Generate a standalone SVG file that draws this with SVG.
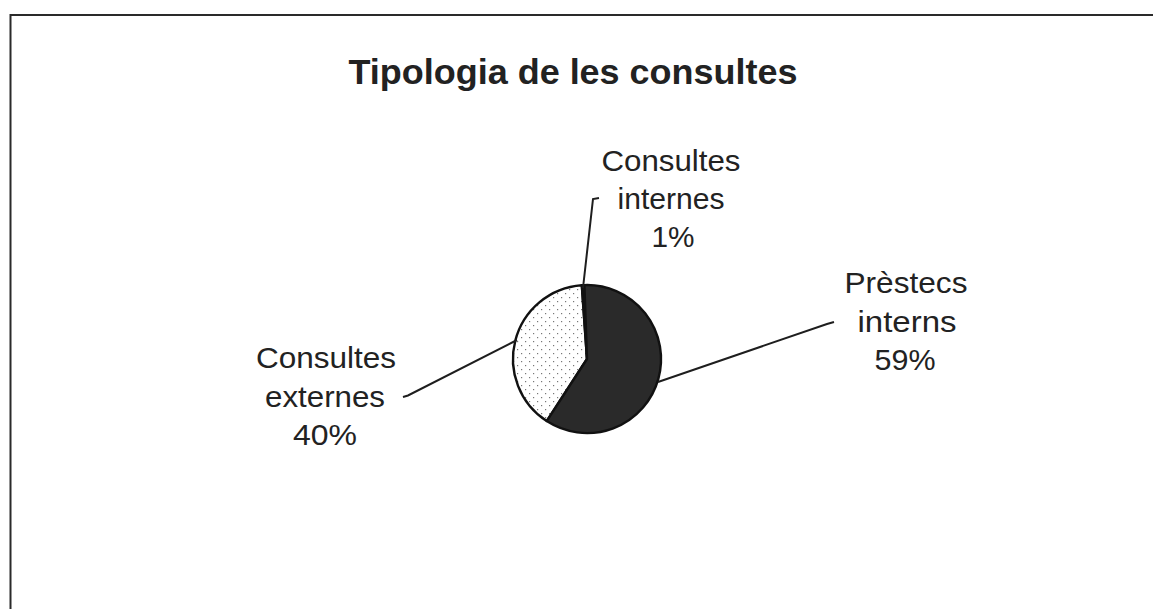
<svg xmlns="http://www.w3.org/2000/svg" width="1153" height="609" viewBox="0 0 1153 609">
<defs>
<pattern id="dots" width="8" height="8" patternUnits="userSpaceOnUse">
<rect x="1" y="1" width="1.2" height="1.2" fill="#777"/>
<rect x="5" y="5" width="1.2" height="1.2" fill="#777"/>
</pattern>
</defs>
<style>
.lbl{font-family:"Liberation Sans",Arial,sans-serif;font-size:30px;fill:#222;text-anchor:middle}
.title{font-family:"Liberation Sans",Arial,sans-serif;font-size:35px;font-weight:bold;fill:#222;text-anchor:middle}
.frame{stroke:#2a2a2a;stroke-width:2;fill:none}
.lead{stroke:#1e1e1e;stroke-width:2;fill:none}
.slice{stroke:#111;stroke-width:2.4;stroke-linejoin:round}
</style>
<rect width="1153" height="609" fill="#fff"/>
<g id="frame">
<line class="frame" x1="10" y1="15" x2="1153" y2="15"/>
<line class="frame" x1="10.5" y1="14" x2="10.5" y2="609"/>
</g>
<g id="title">
<text class="title" x="573" y="84" textLength="449" lengthAdjust="spacingAndGlyphs">Tipologia de les consultes</text>
</g>
<g id="pie">
<path id="slice-externes" class="slice" fill="url(#dots)" d="M587,359 L546.7,421.1 A74,74 0 0 1 581.8,285.2 Z"/>
<path id="slice-internes" class="slice" fill="#fff" d="M587,359 L581.8,285.2 A74,74 0 0 1 584.4,285.1 Z"/>
<path id="slice-prestecs" class="slice" fill="#2a2a2a" d="M587,359 L584.4,285.1 A74,74 0 1 1 546.7,421.1 Z"/>
</g>
<g id="connectors">
<path class="lead" d="M583,288 L593,199 L599,198"/>
<path class="lead" d="M658,382 L827,324 L834,322"/>
<path class="lead" d="M403,397 L408,395.5 L517,340"/>
</g>
<g id="label-internes">
<text class="lbl" x="671" y="171" textLength="139" lengthAdjust="spacingAndGlyphs">Consultes</text>
<text class="lbl" x="671" y="209" textLength="107" lengthAdjust="spacingAndGlyphs">internes</text>
<text class="lbl" x="673" y="247" textLength="43" lengthAdjust="spacingAndGlyphs">1%</text>
</g>
<g id="label-prestecs">
<text class="lbl" x="906" y="293" textLength="123" lengthAdjust="spacingAndGlyphs">Prèstecs</text>
<text class="lbl" x="907" y="332" textLength="99" lengthAdjust="spacingAndGlyphs">interns</text>
<text class="lbl" x="905" y="370" textLength="61" lengthAdjust="spacingAndGlyphs">59%</text>
</g>
<g id="label-externes">
<text class="lbl" x="326" y="368" textLength="140" lengthAdjust="spacingAndGlyphs">Consultes</text>
<text class="lbl" x="325" y="407" textLength="120" lengthAdjust="spacingAndGlyphs">externes</text>
<text class="lbl" x="325" y="445" textLength="64" lengthAdjust="spacingAndGlyphs">40%</text>
</g>
</svg>
